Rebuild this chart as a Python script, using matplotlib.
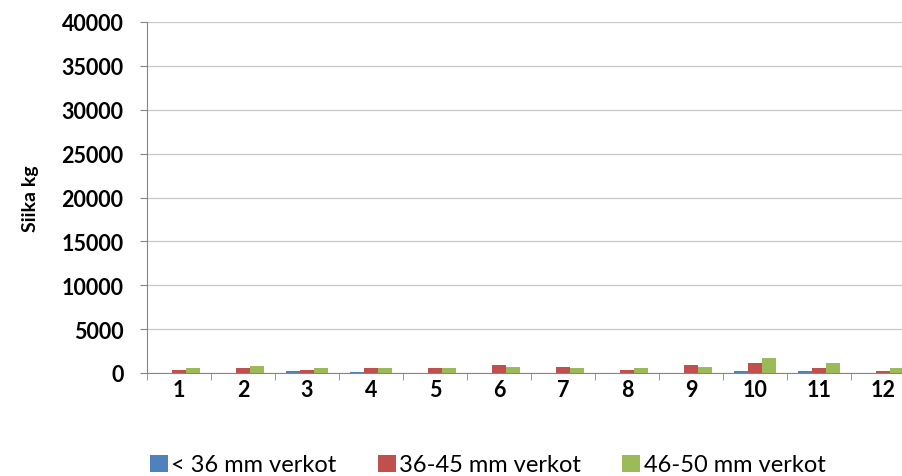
import matplotlib.pyplot as plt
import numpy as np

plt.rcParams['font.family'] = ['Lato', 'DejaVu Sans']

kuukaudet = ['1', '2', '3', '4', '5', '6', '7', '8', '9', '10', '11', '12']
alle36 = [20, 20, 190, 150, 20, 20, 20, 20, 20, 190, 190, 50]
v36_45 = [380, 570, 380, 570, 570, 950, 720, 380, 950, 1140, 570, 190]
v46_50 = [570, 760, 570, 570, 570, 720, 570, 570, 720, 1670, 1140, 570]
sarjat = ['< 36 mm verkot', '36-45 mm verkot', '46-50 mm verkot']
varit = ['#4F81BD', '#C0504D', '#9BBB59']

fig = plt.figure(figsize=(9.03, 4.77), dpi=100)
# right edge of plot area runs past the picture, like in the original
ax = fig.add_axes([147/903, 1-374/477, 768/903, 351/477])

x = np.arange(len(kuukaudet))
w = 0.214
for i, (arvot, nimi, vari) in enumerate(zip([alle36, v36_45, v46_50], sarjat, varit)):
    ax.bar(x + (i - 1) * w, arvot, w, color=vari, label=nimi, zorder=3)

ax.set_ylim(0, 40000)
ax.set_xlim(-0.5, 11.5)
ax.set_yticks(range(0, 40001, 5000))
ax.yaxis.grid(True, color='#c8c8c8', linewidth=0.9, zorder=0)
ax.set_xticks(x)
ax.set_xticklabels(kuukaudet)
ax.set_xticks(np.arange(-0.5, 12, 1), minor=True)
ax.tick_params(axis='x', which='major', length=0, pad=4)
ax.tick_params(axis='x', which='minor', length=5, color='#868686')
ax.tick_params(axis='y', length=5, color='#868686', pad=12)
for lab in ax.get_xticklabels() + ax.get_yticklabels():
    lab.set_fontsize(15.5)
    lab.set_fontweight('bold')
for s in ['top', 'right']:
    ax.spines[s].set_visible(False)
for s in ['left', 'bottom']:
    ax.spines[s].set_color('#868686')
ax.set_ylabel('Siika kg', fontsize=14, fontweight='bold')
ax.yaxis.set_label_coords(-108/768, 0.5)

fig.legend(loc='center', bbox_to_anchor=(0.54, 1-466/477), ncol=3, frameon=False,
           fontsize=17, handlelength=0.75, handleheight=0.75, handletextpad=0.15,
           columnspacing=1.75)

fig.savefig('out.png', dpi=100)
